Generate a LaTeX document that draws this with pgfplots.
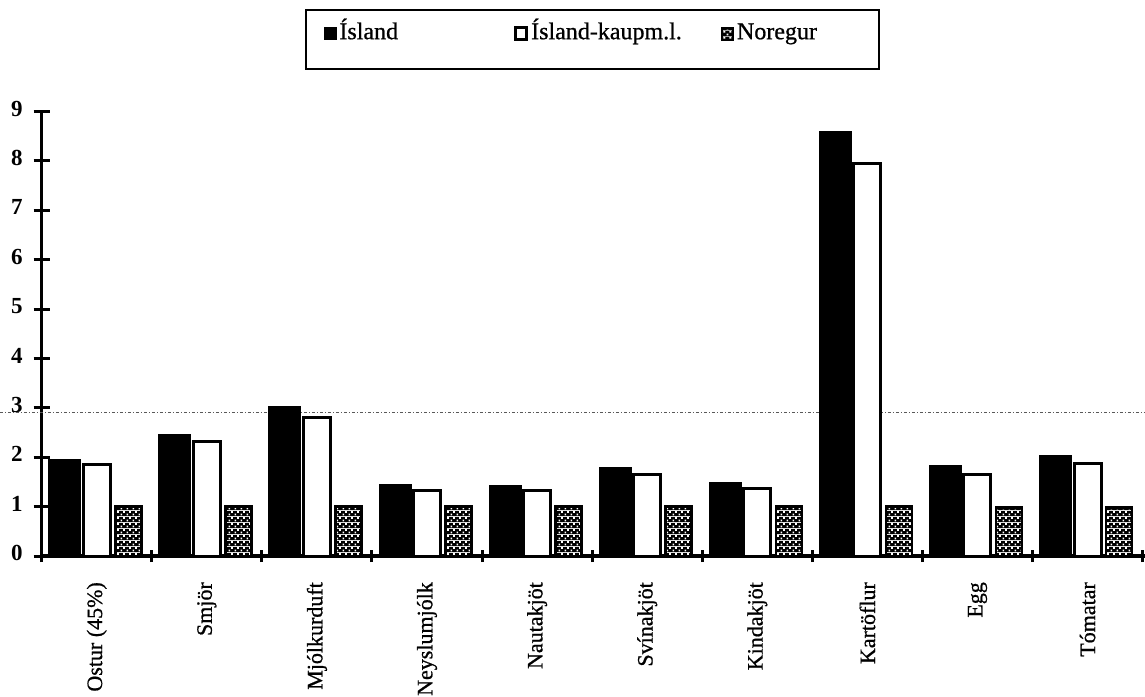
\documentclass[border=0pt]{standalone}
\usepackage{fontspec}
\setmainfont{Liberation Serif}
\newfontface\embf{Liberation Serif}[FakeBold=0.8]
\usepackage{pgfplots}
\pgfplotsset{compat=1.18}
\usetikzlibrary{patterns.meta}
\tikzdeclarepattern{
  name=chk,
  type=colored,
  bottom left={(0pt,0pt)},
  top right={(6pt,6pt)},
  tile size={(6pt,6pt)},
  code={
    \fill[black] (0pt,0pt) rectangle (6pt,6pt);
    \fill[white] (0.6pt,0.6pt) rectangle (2.6pt,2.6pt);
    \fill[white] (3.6pt,3.6pt) rectangle (5.6pt,5.6pt);
  }
}
\pgfplotsset{
  sqleg/.style={legend image code/.code={\draw[##1, line width=#1] (0pt,0pt) rectangle (11pt,12pt); \path (14pt,0pt);}},
}
\begin{document}
\begin{tikzpicture}
\path[use as bounding box] (0pt,0pt) rectangle (1145pt,696pt);
\begin{axis}[
  at={(41.7pt,140pt)}, anchor=south west,
  scale only axis, width=1103.2pt, height=444.5pt,
  xmin=-0.5, xmax=9.52, ymin=0, ymax=9,
  axis x line=bottom, axis y line=left,
  axis line style={line width=3.4pt, -},
  ytick={0,...,9},
  xtick={0,...,9},
  xticklabels={Ostur (45\%), Smjör, Mjólkurduft, Neyslumjólk, Nautakjöt, Svínakjöt, Kindakjöt, Kartöflur, Egg, Tómatar},
  major x tick style={draw=none},
  minor xtick={-0.5,0.5,...,9.5},
  tick align=center,
  major tick length=16pt, minor tick length=12pt,
  every tick/.style={line width=3pt, black},
  /pgf/number format/assume math mode=true,
  yticklabel style={font=\fontsize{23}{23}\selectfont\bfseries, anchor=east, inner sep=0pt, yshift=3pt},
  yticklabel shift=11pt,
  xticklabel style={font=\fontsize{22}{22}\embf, rotate=90, anchor=east, inner sep=0pt},
  xticklabel shift=18pt,
  clip=false,
  legend columns=3,
  legend style={at={(axis description cs:0.2387,1.2306)}, anchor=north west,
    draw=black, line width=2.4pt, inner xsep=18pt, inner ysep=0pt,
    font=\fontsize{24}{24}\embf,
    nodes={inner sep=0pt},
    /tikz/column sep=0pt},
]
\addplot[black!65, line width=1pt, dash dot, forget plot] coordinates {(-0.879,2.9) (9.52,2.9)};
\addplot[ybar, bar width=32pt, bar shift=-32pt, fill=black, draw=black, line width=1pt, sqleg=1.5pt]
  coordinates {(0,1.95) (1,2.46) (2,3.03) (3,1.44) (4,1.43) (5,1.80) (6,1.48) (7,8.59) (8,1.83) (9,2.03)};
\addlegendentry[text width=175pt, text height=29pt, text depth=30pt]{Ísland}
\addplot[ybar, bar width=27pt, bar shift=0pt, fill=white, draw=black, line width=3pt, sqleg=2.5pt]
  coordinates {(0,1.85) (1,2.31) (2,2.81) (3,1.32) (4,1.32) (5,1.66) (6,1.37) (7,7.95) (8,1.66) (9,1.87)};
\addlegendentry[text width=189.5pt, text height=29pt, text depth=30pt]{Ísland-kaupm.l.}
\addplot[ybar, bar width=26pt, bar shift=31.5pt, pattern=chk, draw=black, line width=2.6pt, sqleg=2pt]
  coordinates {(0,1) (1,1) (2,1) (3,1) (4,1) (5,1) (6,1) (7,1) (8,0.98) (9,0.98)};
\addlegendentry[text width=124pt, text height=29pt, text depth=30pt]{Noregur}
\end{axis}
\end{tikzpicture}
\end{document}
